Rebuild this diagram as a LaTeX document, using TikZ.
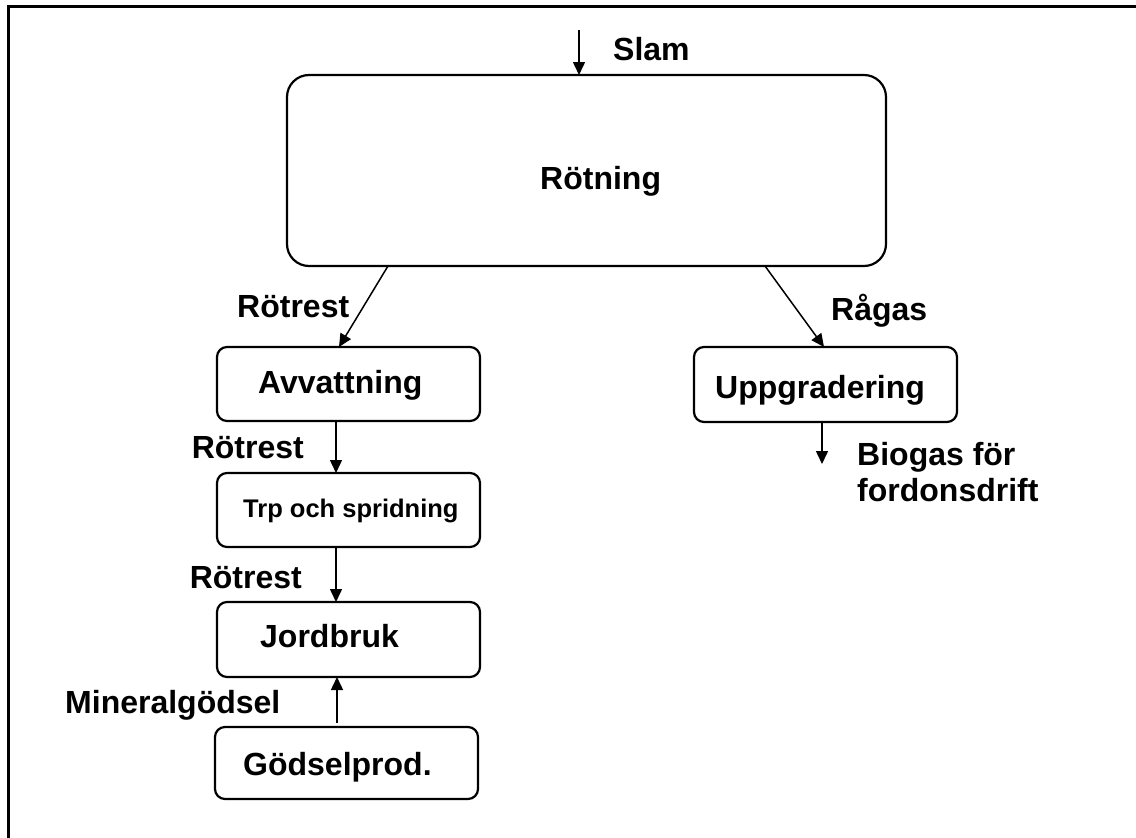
\documentclass[tikz,border=0pt]{standalone}
\usepackage{fontspec}
\setmainfont{Liberation Sans}
\usetikzlibrary{arrows.meta,calc}
\tikzset{
  box/.style={draw, line width=2.2pt, rounded corners=10pt, inner sep=0pt, outer sep=0pt, anchor=north west},
  bigbox/.style={box, rounded corners=22pt},
  arr/.style={line width=1.5pt, -{Triangle[length=13pt,width=12pt]}},
  lbl/.style={inner sep=0pt, font=\fontsize{32}{37}\selectfont\bfseries},
  slbl/.style={inner sep=0pt, font=\fontsize{25.5}{30}\selectfont\bfseries}
}
\begin{document}
\begin{tikzpicture}[x=1pt,y=-1pt]
\useasboundingbox (0,0) rectangle (1136,838);
\draw[line width=3pt] (8,845) -- (8,6.5) -- (1145,6.5);
% boxes
\node[bigbox, minimum width=599pt, minimum height=191pt] (rot) at (287,75) {};
\node[box, minimum width=263pt, minimum height=74pt] (avv) at (217,347) {};
\node[box, minimum width=263pt, minimum height=74pt] (trp) at (217,473) {};
\node[box, minimum width=263pt, minimum height=75pt] (jord) at (217,602) {};
\node[box, minimum width=263pt, minimum height=72pt] (god) at (215,727) {};
\node[box, minimum width=263pt, minimum height=75pt] (upp) at (694,347) {};
% box texts
\node[lbl, anchor=base west] (trot) at (540,189) {Rötning};
\node[lbl, anchor=base west] (tavv) at (258,393) {Avvattning};
\node[slbl, anchor=base west] (ttrp) at (243,517) {Trp och spridning};
\node[lbl, anchor=base west] (tjord) at (260,647) {Jordbruk};
\node[lbl, anchor=base west] (tgod) at (243,775) {Gödselprod.};
\node[lbl, anchor=base west] (tupp) at (715,398) {Uppgradering};
% flow labels
\node[lbl, anchor=base west] (lslam) at (613,60) {Slam};
\node[lbl, anchor=base west] (lr1) at (237,317) {Rötrest};
\node[lbl, anchor=base east] (lr2) at (304,458) {Rötrest};
\node[lbl, anchor=base east] (lr3) at (302,588) {Rötrest};
\node[lbl, anchor=base west] (lmin) at (65,713) {Mineralgödsel};
\node[lbl, anchor=base west] (lrag) at (831,320) {Rågas};
\node[lbl, anchor=base west] (lbio1) at (857,465) {Biogas för};
\node[lbl, anchor=base west] (lbio2) at (857,501) {fordonsdrift};
% connectors
\coordinate (slamtop) at (579,30);
\coordinate (bioend) at (822,464);
\draw[arr] (slamtop) -- (slamtop |- rot.north);
\draw[arr] ($(rot.south west)+(101,0)$) -- ($(avv.north west)+(122,0)$);
\draw[arr] ($(rot.south west)+(478,0)$) -- ($(upp.north west)+(130,0)$);
\draw[arr] ($(avv.south west)+(119,0)$) -- ($(trp.north west)+(119,0)$);
\draw[arr] ($(trp.south west)+(119,0)$) -- ($(jord.north west)+(119,0)$);
\draw[arr] ($(god.north west)+(122,-4)$) -- ($(jord.south west)+(120,0)$);
\draw[arr] ($(upp.south west)+(128,0)$) -- (bioend);
\end{tikzpicture}
\end{document}
